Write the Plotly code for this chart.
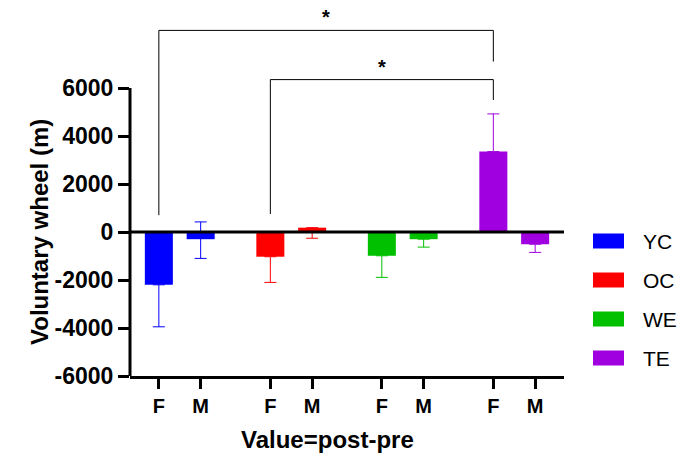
import plotly.graph_objects as go

# ---------------- data ----------------
groups = ["YC", "OC", "WE", "TE"]
sexes = ["F", "M"]
colors = ["#0000FF", "#FF0000", "#00C000", "#A000E0"]

# mean (post - pre) voluntary wheel distance, m
means = {
    "YC": [-2200, -300],
    "OC": [-1030, 180],
    "WE": [-990, -300],
    "TE": [3350, -510],
}
err_plus = {
    "YC": [0, 720],
    "OC": [0, 0],
    "WE": [0, 0],
    "TE": [1570, 0],
}
err_minus = {
    "YC": [1750, 800],
    "OC": [1070, 440],
    "WE": [900, 330],
    "TE": [0, 340],
}

# x positions (F, M) for each group
positions = {
    "YC": [0, 1],
    "OC": [8 / 3, 11 / 3],
    "WE": [16 / 3, 19 / 3],
    "TE": [8, 9],
}

ytick_vals = [-6000, -4000, -2000, 0, 2000, 4000, 6000]
ytick_text = ["-6000", "-4000", "-2000", "0", "2000", "4000", "6000"]

x_title = "Value=post-pre"
y_title = "Voluntary wheel (m)"

# significance brackets: (group_a, group_b, bar index, line level, left leg end, right leg end)
brackets = [
    ("YC", "TE", 0, 8400, 700, 7100),
    ("OC", "TE", 0, 6350, 750, 5500),
]
sig_label = "*"

# ---------------- layout helpers ----------------
W, H = 697, 466
L, R, T, B = 130, 564, 16, 376


def pxx(px):
    return (px - L) / (R - L)


def pxy(py):
    return (B - py) / (B - T)


FONT = "Liberation Sans, Arial, sans-serif"

fig = go.Figure()

for g, c in zip(groups, colors):
    fig.add_trace(go.Bar(
        x=positions[g], y=means[g], width=0.67,
        marker=dict(color=c, line=dict(width=0)),
        error_y=dict(type="data", symmetric=False, array=err_plus[g],
                     arrayminus=err_minus[g], color=c, thickness=1, width=6),
        name=g, showlegend=False,
    ))

tickvals = []
ticktext = []
for g in groups:
    tickvals += positions[g]
    ticktext += sexes

shapes = []
annotations = []

# y axis line (only up to 6000)
shapes.append(dict(type="line", xref="paper", yref="y", x0=0, x1=0,
                   y0=-6000, y1=6000, line=dict(color="black", width=3), layer="above"))
# zero line
shapes.append(dict(type="line", xref="paper", yref="y", x0=0, x1=1,
                   y0=0, y1=0, line=dict(color="black", width=3), layer="above"))

for ga, gb, idx, level, lleg, rleg in brackets:
    xa = positions[ga][idx]
    xb = positions[gb][idx]
    shapes.append(dict(type="path", xref="x", yref="y",
                       path=f"M {xa},{lleg} L {xa},{level} L {xb},{level} L {xb},{rleg}",
                       line=dict(color="black", width=1)))
    annotations.append(dict(x=(xa + xb) / 2, y=level, xref="x", yref="y",
                            text=sig_label, showarrow=False, yanchor="bottom",
                            font=dict(family=FONT, size=20, color="black", weight="bold")))

# manual legend
leg_y = [241, 280, 319, 358]
for g, c, py in zip(groups, colors, leg_y):
    shapes.append(dict(type="rect", xref="paper", yref="paper",
                       x0=pxx(593), x1=pxx(624), y0=pxy(py + 7.5), y1=pxy(py - 7.5),
                       fillcolor=c, line=dict(width=0)))
    annotations.append(dict(x=pxx(641), y=pxy(py), xref="paper", yref="paper",
                            text=g, showarrow=False, xanchor="left", yanchor="middle",
                            font=dict(family=FONT, size=21, color="black")))

# axis titles
annotations.append(dict(x=pxx(327), y=pxy(439), xref="paper", yref="paper",
                        text=x_title, showarrow=False, xanchor="center", yanchor="middle",
                        font=dict(family=FONT, size=24, color="black", weight="bold")))
annotations.append(dict(x=pxx(39), y=pxy(232), xref="paper", yref="paper",
                        text=y_title, showarrow=False, xanchor="center", yanchor="middle",
                        textangle=-90,
                        font=dict(family=FONT, size=24, color="black", weight="bold")))

fig.update_layout(
    width=W, height=H,
    margin=dict(l=L, r=W - R, t=T, b=H - B, pad=0),
    paper_bgcolor="white", plot_bgcolor="white",
    barmode="overlay",
    shapes=shapes, annotations=annotations,
    xaxis=dict(
        range=[-0.69, 9.69], tickvals=tickvals, ticktext=ticktext,
        showgrid=False, zeroline=False, showline=True, linecolor="black", linewidth=3,
        ticks="outside", ticklen=10, tickwidth=3, tickcolor="black",
        tickfont=dict(family=FONT, size=20, color="black", weight="bold"),
    ),
    yaxis=dict(
        range=[-6000, 9000], tickvals=ytick_vals, ticktext=ytick_text,
        showgrid=False, zeroline=False, showline=False,
        ticks="outside", ticklen=11, tickwidth=3, tickcolor="black",
        tickfont=dict(family=FONT, size=23, color="black", weight="bold"),
    ),
)

fig.write_html("out.html")
